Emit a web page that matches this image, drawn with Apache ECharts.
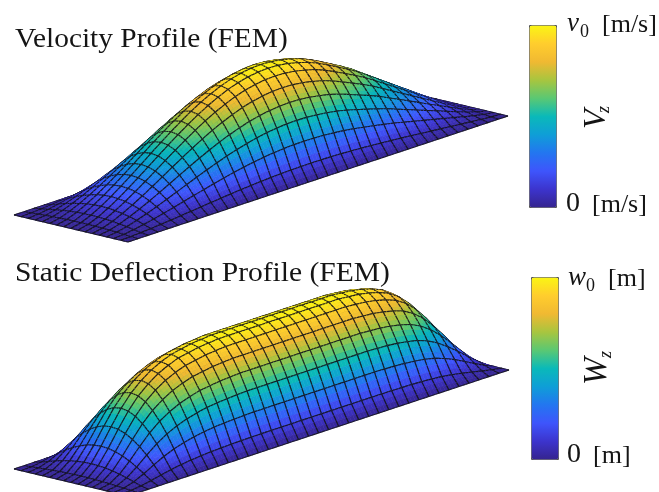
<!DOCTYPE html>
<html><head><meta charset="utf-8">
<style>html,body{margin:0;padding:0;background:#fff}#c{width:659px;height:492px;filter:blur(.35px)}</style>
<script src="https://cdn.jsdelivr.net/npm/echarts@6/dist/echarts.min.js"></script>
</head><body><div id="c"></div>
<script>
// Relative height along the long direction, per mesh line
const velocityAlong = [0,.024,.066,.121,.184,.254,.328,.404,.481,.557,.63,.7,.766,.824,.875,.92,.954,.979,.995,1,.995,.98,.956,.925,.882,.83,.775,.72,.66,.59,.52,.45,.38,.31,.24,.17,.1,.04,0];
const velocityAcross = [0,.14,.34,.53,.69,.82,.92,.98,1,.98,.92,.82,.69,.53,.34,.14,0];
const deflectionAlong = [0,.03,.12,.26,.42,.57,.69,.78,.85,.9,.94,.96,.98,.99,1,1,1,1,1,1,1,1,1,1,1,1,1,.99,.98,.96,.93,.89,.82,.72,.59,.44,.28,.13,0];
const deflectionAcross = [0,.14,.34,.53,.69,.82,.92,.98,1,.98,.92,.82,.69,.53,.34,.14,0];
const titles = ['Velocity Profile (FEM)','Static Deflection Profile (FEM)'];
const barColors = ['#35248f','#3c34cd','#3e55fc','#2376f0','#0f9ed7','#0ab9b9','#5ac873','#a8c53f','#f0b932','#ffcd2d','#faf514'];

const views = [
  {origin:[128,242],along:[380,-126],across:[-114,-27],height:101},
  {origin:[128,496],along:[381,-126],across:[-114,-27],height:101}
];
const SUB = 3;
function hAt(al,ac,u,v){
  const i=Math.min(Math.floor(u),al.length-2), j=Math.min(Math.floor(v),ac.length-2);
  const f=u-i, g=v-j;
  return (al[i]*(1-f)+al[i+1]*f)*(ac[j]*(1-g)+ac[j+1]*g);
}
function buildCells(al, ac){
  const out=[];
  for(let j=ac.length-2;j>=0;j--) for(let b=SUB-1;b>=0;b--)
  for(let i=al.length-2;i>=0;i--) for(let a=SUB-1;a>=0;a--){
    out.push([i,j,a,b,hAt(al,ac,i+(a+.5)/SUB,j+(b+.5)/SUB)]);
  }
  return out;
}
function makeRender(al,ac,view){
  const N=al.length-1, M=ac.length-1;
  return function(params,api){
    const i=api.value(0), j=api.value(1), a=api.value(2), b=api.value(3);
    const P=(u,v)=>{
      const s=u/N,t=v/M,h=hAt(al,ac,u,v)*view.height;
      return api.coord([view.origin[0]+view.along[0]*s+view.across[0]*t,
                        view.origin[1]+view.along[1]*s+view.across[1]*t-h]);
    };
    const u0=i+a/SUB,u1=i+(a+1)/SUB,v0=j+b/SUB,v1=j+(b+1)/SUB;
    const p00=P(u0,v0),p10=P(u1,v0),p11=P(u1,v1),p01=P(u0,v1);
    const color=api.visual('color');
    const kids=[{type:'polygon',shape:{points:[p00,p10,p11,p01]},style:{fill:color,stroke:color,lineWidth:.6}}];
    const line=(p,q)=>kids.push({type:'line',shape:{x1:p[0],y1:p[1],x2:q[0],y2:q[1]},style:{stroke:'rgba(20,20,25,.9)',lineWidth:1.1,fill:null}});
    if(a===0) line(p00,p01);
    if(a===SUB-1) line(p10,p11);
    if(b===0) line(p00,p10);
    if(b===SUB-1) line(p01,p11);
    return {type:'group',children:kids};
  };
}
const serif='"Liberation Serif"';
// baseline-positioned text
function txt(text,x,base,size,o){
  o=o||{};
  const el={type:'text',silent:true,scaleX:o.sx||1,style:{text:text,font:(o.italic?'italic ':'')+size+'px '+serif,fill:'#151515'}};
  if(o.rot){el.rotation=Math.PI/2;el.x=x-.82*size;el.y=base;}
  else{el.x=x;el.y=base-.82*size;}
  return el;
}
const chart=echarts.init(document.getElementById('c'),null,{renderer:'canvas'});
chart.setOption({
  animation:false,
  backgroundColor:'#fff',
  grid:{left:0,right:0,top:0,bottom:0},
  xAxis:{type:'value',min:0,max:659,show:false},
  yAxis:{type:'value',min:0,max:492,inverse:true,show:false},
  visualMap:[
    {type:'continuous',seriesIndex:0,dimension:4,min:0,max:1,left:529,top:25,itemWidth:27,itemHeight:182,padding:0,borderColor:'#555',borderWidth:1,calculable:false,hoverLink:false,inRange:{color:barColors}},
    {type:'continuous',seriesIndex:1,dimension:4,min:0,max:1,left:531,top:277,itemWidth:27,itemHeight:182,padding:0,borderColor:'#555',borderWidth:1,calculable:false,hoverLink:false,inRange:{color:barColors}}
  ],
  series:[
    {type:'custom',coordinateSystem:'cartesian2d',silent:true,progressive:0,renderItem:makeRender(velocityAlong,velocityAcross,views[0]),data:buildCells(velocityAlong,velocityAcross),encode:{x:0,y:1}},
    {type:'custom',coordinateSystem:'cartesian2d',silent:true,progressive:0,renderItem:makeRender(deflectionAlong,deflectionAcross,views[1]),data:buildCells(deflectionAlong,deflectionAcross),encode:{x:0,y:1}}
  ],
  graphic:[
    txt(titles[0],15,48.5,28,{sx:1.05}),
    txt(titles[1],15,283,28,{sx:1.055}),
    txt('v',567,33,27,{italic:true}), txt('0',580,38,18), txt('[m/s]',602,33,26),
    txt('0',566,213,28), txt('[m/s]',592,213,26),
    txt('w',568,287,27,{italic:true}), txt('0',586,292,18), txt('[m]',608,287,26),
    txt('0',567,464,28), txt('[m]',593,464,26),
    txt('V',607,129,32,{italic:true,rot:true}),
    txt('z',610,113,18,{italic:true,rot:true}),
    txt('W',608,385,33,{italic:true,rot:true}),
    txt('z',612,358,18,{italic:true,rot:true})
  ]
});
</script></body></html>
